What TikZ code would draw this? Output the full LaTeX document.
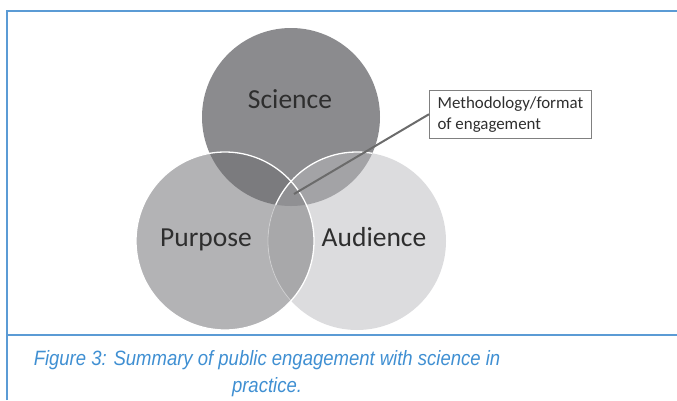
\documentclass[tikz,border=0pt]{standalone}
\usepackage{fontspec}
\setmainfont{Carlito}
\newfontfamily\capfont{Liberation Sans}
\definecolor{frameblue}{HTML}{5B9BD5}
\definecolor{capblue}{HTML}{3F8FD2}
\definecolor{cS}{HTML}{8B8B8E}
\definecolor{cP}{HTML}{B3B3B5}
\definecolor{cA}{HTML}{DCDCDE}
\definecolor{cSP}{HTML}{7B7B7E}
\definecolor{cSA}{HTML}{A3A3A6}
\definecolor{cPA}{HTML}{A8A8AA}
\definecolor{cSPA}{HTML}{909093}
\definecolor{txt}{HTML}{2E2E2E}
\tikzset{
  framestyle/.style={draw=frameblue, line width=2.2pt},
  biglabel/.style={font=\fontsize{27.5}{30}\selectfont, text=txt, inner sep=0pt, anchor=base},
  callout/.style={draw=black!50, line width=0.8pt, font=\fontsize{16.9}{21}\selectfont, text=txt, align=left, inner xsep=7pt, inner ysep=6pt, minimum width=162pt},
  leader/.style={draw=black!58, line width=2pt},
  captext/.style={font=\capfont\itshape\fontsize{18.5}{27}\selectfont, text=capblue, inner sep=0pt, anchor=base, yscale=1.12}
}
\begin{document}
\begin{tikzpicture}[x=1pt,y=-1pt]
\useasboundingbox (0,0) rectangle (677,400);
% frame
\draw[framestyle] (7,400) -- (7,11) -- (677,11);
\draw[framestyle] (7,335) -- (677,335);
% circles
\coordinate (S) at (291,117);
\coordinate (P) at (225,241);
\coordinate (A) at (357,241);
\def\R{89}
\fill[cS] (S) circle (\R);
\fill[cP] (P) circle (\R);
\fill[cA] (A) circle (\R);
\begin{scope}
  \clip (S) circle (\R);
  \fill[cSP] (P) circle (\R);
  \fill[cSA] (A) circle (\R);
\end{scope}
\begin{scope}
  \clip (P) circle (\R);
  \fill[cPA] (A) circle (\R);
  \clip (S) circle (\R);
  \fill[cSPA] (A) circle (\R);
\end{scope}
\begin{scope}
  \clip (S) circle (\R);
  \draw[white, line width=1.3pt] (A) circle (\R);
\end{scope}
\draw[white, line width=1.3pt] (P) circle (\R);
\begin{scope}
  \clip (P) circle (\R);
  \draw[white, opacity=0.35, line width=0.8pt] (A) circle (\R);
\end{scope}
% labels
\node[biglabel] (sci) at (290,108) {Science};
\node[biglabel] (pur) at (206,246) {Purpose};
\node[biglabel] (aud) at (374,246) {Audience};
% callout
\node[callout, anchor=north west] (box) at (429,90) {Methodology/format\\of engagement};
\coordinate (tip) at (294,194);
\draw[leader] (tip) -- (box.west);
% caption
\node[captext] (cap1) at (267,365) {Figure 3: Summary of public engagement with science in};
\node[captext] (cap2) at (267,392) {practice.};
\end{tikzpicture}
\end{document}
